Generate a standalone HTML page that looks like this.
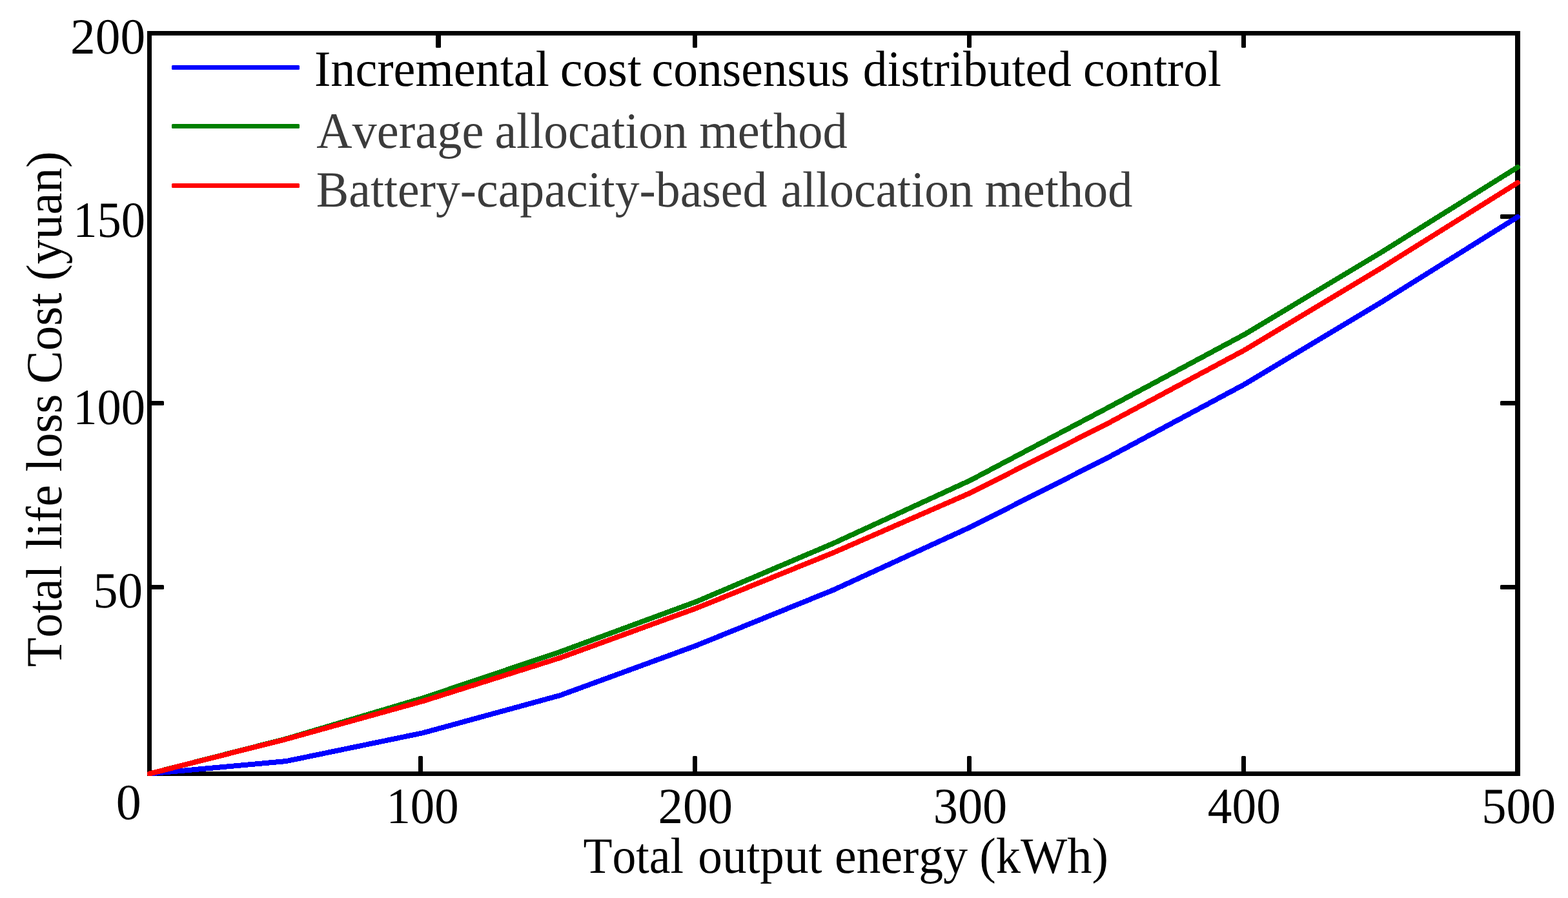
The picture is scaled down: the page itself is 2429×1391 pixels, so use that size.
<!DOCTYPE html>
<html lang="en">
<head>
<meta charset="utf-8">
<title>Total life loss cost vs total output energy</title>
<style>
html,body{margin:0;padding:0;background:#fff;}
body{width:2429px;height:1391px;overflow:hidden;}
svg{display:block;}
text{font-family:"Liberation Serif", serif;font-size:78.7px;font-kerning:none;text-rendering:geometricPrecision;fill:#000;white-space:pre;}
.g{fill:#3b3b3b;}
</style>
</head>
<body>
<svg width="2429" height="1391" viewBox="0 0 2429 1391">
<rect x="0" y="0" width="2429" height="1391" fill="#fff"/>
<g fill="#000" shape-rendering="crispEdges">
<rect x="228" y="48" width="2127" height="7"/>
<rect x="228" y="1195" width="2127" height="7"/>
<rect x="228" y="48" width="7" height="1154"/>
<rect x="2347" y="48" width="8" height="1154"/>
</g>
<g fill="#000">
<rect x="648.0" y="1171" width="7" height="27" rx="1.5"/>
<rect x="1073.0" y="1171" width="7" height="27" rx="1.5"/>
<rect x="1498.0" y="1171" width="7" height="27" rx="1.5"/>
<rect x="1923.0" y="1171" width="7" height="27" rx="1.5"/>
<rect x="675.0" y="52" width="8" height="22" rx="1.5"/>
<rect x="1073.0" y="52" width="7" height="22" rx="1.5"/>
<rect x="1498.0" y="52" width="7" height="22" rx="1.5"/>
<rect x="1923.0" y="52" width="7" height="22" rx="1.5"/>
<rect x="232" y="621.0" width="22" height="7" rx="1.5"/>
<rect x="232" y="906.0" width="22" height="7" rx="1.5"/>
<rect x="2324" y="332.0" width="26" height="7" rx="1.5"/>
<rect x="2324" y="621.0" width="26" height="7" rx="1.5"/>
<rect x="2324" y="906.0" width="26" height="7" rx="1.5"/>
</g>
<defs><clipPath id="plotclip"><rect x="228" y="48" width="2127" height="1154"/></clipPath></defs>
<g clip-path="url(#plotclip)" shape-rendering="crispEdges">
<polyline points="231.50,1198.50 443.45,1179.05 655.40,1135.20 867.35,1077.20 1079.30,999.70 1291.25,913.70 1503.20,816.50 1715.15,709.40 1927.10,595.70 2139.05,468.60 2351.00,336.00" fill="none" stroke="#0000ff" stroke-width="8" stroke-linecap="round" stroke-linejoin="round"/>
<polyline points="231.50,1198.50 443.45,1144.40 655.40,1081.25 867.35,1009.80 1079.30,931.70 1291.25,841.50 1503.20,744.00 1715.15,632.10 1927.10,518.50 2139.05,391.30 2351.00,259.00" fill="none" stroke="#008000" stroke-width="8" stroke-linecap="round" stroke-linejoin="round"/>
<polyline points="231.50,1198.50 443.45,1144.90 655.40,1086.00 867.35,1019.10 1079.30,941.90 1291.25,856.00 1503.20,763.50 1715.15,656.40 1927.10,542.70 2139.05,415.60 2351.00,283.00" fill="none" stroke="#ff0000" stroke-width="8" stroke-linecap="round" stroke-linejoin="round"/>
</g>
<rect x="266" y="101" width="198" height="7" rx="1.5" fill="#0000ff"/>
<rect x="266" y="192" width="198" height="7" rx="1.5" fill="#008000"/>
<rect x="266" y="284" width="198" height="7" rx="1.5" fill="#ff0000"/>
<text id="lg1" y="133.00"><tspan x="486.95" textLength="363.88" lengthAdjust="spacingAndGlyphs">Incremental</tspan> <tspan x="867.82" textLength="125.83" lengthAdjust="spacingAndGlyphs">cost</tspan> <tspan x="1009.62" textLength="306.61" lengthAdjust="spacingAndGlyphs">consensus</tspan> <tspan x="1336.77" textLength="322.95" lengthAdjust="spacingAndGlyphs">distributed</tspan> <tspan x="1678.12" textLength="213.89" lengthAdjust="spacingAndGlyphs">control</tspan></text>
<text id="lg2" class="g" y="229.00"><tspan x="490.25" textLength="259.30" lengthAdjust="spacingAndGlyphs">Average</tspan> <tspan x="766.54" textLength="298.31" lengthAdjust="spacingAndGlyphs">allocation</tspan> <tspan x="1083.19" textLength="229.54" lengthAdjust="spacingAndGlyphs">method</tspan></text>
<text id="lg3" class="g" y="320.00"><tspan x="489.82" textLength="698.51" lengthAdjust="spacingAndGlyphs">Battery-capacity-based</tspan> <tspan x="1209.44" textLength="298.41" lengthAdjust="spacingAndGlyphs">allocation</tspan> <tspan x="1525.40" textLength="229.04" lengthAdjust="spacingAndGlyphs">method</tspan></text>
<text id="y200" y="83.00"><tspan x="109.10" textLength="116.05" lengthAdjust="spacingAndGlyphs">200</tspan></text>
<text id="y150" y="367.00"><tspan x="113.25" textLength="111.79" lengthAdjust="spacingAndGlyphs">150</tspan></text>
<text id="y100" y="657.00"><tspan x="113.25" textLength="111.79" lengthAdjust="spacingAndGlyphs">100</tspan></text>
<text id="y50" y="941.00"><tspan x="144.34" textLength="76.68" lengthAdjust="spacingAndGlyphs">50</tspan></text>
<text id="x0" y="1269.00"><tspan x="179.63" textLength="39.05" lengthAdjust="spacingAndGlyphs">0</tspan></text>
<text id="x100" y="1275.00"><tspan x="598.42" textLength="112.23" lengthAdjust="spacingAndGlyphs">100</tspan></text>
<text id="x200" y="1275.00"><tspan x="1019.52" textLength="115.52" lengthAdjust="spacingAndGlyphs">200</tspan></text>
<text id="x300" y="1275.00"><tspan x="1445.74" textLength="114.56" lengthAdjust="spacingAndGlyphs">300</tspan></text>
<text id="x400" y="1275.00"><tspan x="1870.83" textLength="113.04" lengthAdjust="spacingAndGlyphs">400</tspan></text>
<text id="x500" y="1275.00"><tspan x="2295.15" textLength="114.87" lengthAdjust="spacingAndGlyphs">500</tspan></text>
<text id="xt" y="1352.00"><tspan x="903.47" textLength="155.51" lengthAdjust="spacingAndGlyphs">Total</tspan> <tspan x="1081.34" textLength="192.00" lengthAdjust="spacingAndGlyphs">output</tspan> <tspan x="1292.94" textLength="206.16" lengthAdjust="spacingAndGlyphs">energy</tspan> <tspan x="1517.23" textLength="199.83" lengthAdjust="spacingAndGlyphs">(kWh)</tspan></text>
<text id="yt" transform="translate(95,1031.7) rotate(-90)" y="0.00"><tspan x="-1.35" textLength="157.54" lengthAdjust="spacingAndGlyphs">Total</tspan> <tspan x="180.40" textLength="100.11" lengthAdjust="spacingAndGlyphs">life</tspan> <tspan x="300.85" textLength="120.45" lengthAdjust="spacingAndGlyphs">loss</tspan> <tspan x="437.25" textLength="140.90" lengthAdjust="spacingAndGlyphs">Cost</tspan> <tspan x="597.03" textLength="200.24" lengthAdjust="spacingAndGlyphs">(yuan)</tspan></text>
</svg>
</body>
</html>
